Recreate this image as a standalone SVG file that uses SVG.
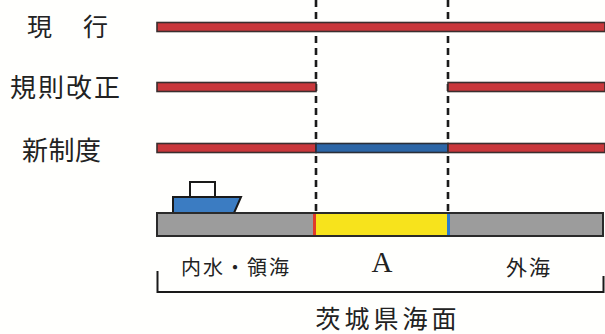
<svg xmlns="http://www.w3.org/2000/svg" width="605" height="334" viewBox="0 0 605 334">
<style>
.lbl{font-family:"Noto Sans CJK JP","Noto Sans",sans-serif;fill:#222;}
.red{fill:#c9373b;stroke:#3a2e2e;stroke-width:1.6;}
.blue{fill:#2c66a6;stroke:#2a2e36;stroke-width:1.6;}
.dash{stroke:#1a1a1a;stroke-width:2.6;stroke-dasharray:7 5;fill:none;}
</style>
<rect width="605" height="334" fill="#fffffd"/>
<g id="labels">
<text class="lbl" x="27" y="36" font-size="25">現</text>
<text class="lbl" x="83" y="36" font-size="25">行</text>
<text class="lbl" x="10" y="97" font-size="26" textLength="110">規則改正</text>
<text class="lbl" x="22" y="160" font-size="26" textLength="79">新制度</text>
</g>
<g id="connectors">
<line class="dash" x1="316" y1="0" x2="316" y2="213"/>
<line class="dash" x1="448" y1="0" x2="448" y2="213"/>
</g>
<g id="row-current">
<rect class="red" x="157" y="22.5" width="448" height="9"/>
</g>
<g id="row-revision">
<rect class="red" x="157" y="82.5" width="159" height="9"/>
<rect class="red" x="448" y="82.5" width="157" height="9"/>
</g>
<g id="row-new">
<rect class="red" x="157" y="143.5" width="159" height="9"/>
<rect class="blue" x="316" y="143.5" width="132" height="9"/>
<rect class="red" x="448" y="143.5" width="157" height="9"/>
</g>
<g id="boat">
<rect x="190" y="182" width="25" height="15" fill="#fff" stroke="#1a1a1a" stroke-width="2"/>
<polygon points="173,197 241,197 234,213 173,213" fill="#3b7cc2" stroke="#1a1a1a" stroke-width="2"/>
</g>
<g id="sea">
<rect x="157" y="213" width="446" height="23" fill="#9c9c9c" stroke="#2a2a2a" stroke-width="2"/>
<rect x="316" y="214" width="131" height="21" fill="#f7e31c"/>
<rect x="313" y="214" width="3" height="21" fill="#e03a2a"/>
<rect x="447" y="214" width="3" height="21" fill="#2b7bd0"/>
</g>
<g id="sea-labels">
<text class="lbl" x="236" y="275" font-size="20" text-anchor="middle" letter-spacing="2">内水・領海</text>
<text x="382" y="272" font-size="29" text-anchor="middle" font-family="Liberation Serif, serif" fill="#222">A</text>
<text class="lbl" x="529" y="275" font-size="21" text-anchor="middle" letter-spacing="2">外海</text>
</g>
<g id="bracket">
<path d="M157.5,271 V292 H603.5 V276" fill="none" stroke="#1a1a1a" stroke-width="2"/>
<text class="lbl" x="388" y="328" font-size="25" text-anchor="middle" letter-spacing="4">茨城県海面</text>
</g>
</svg>
